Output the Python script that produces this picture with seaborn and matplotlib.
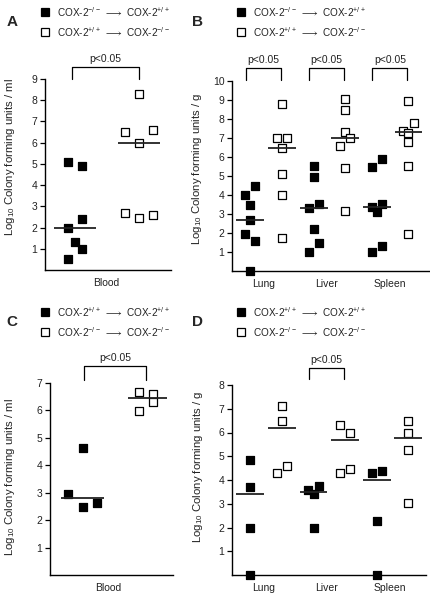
import numpy as np
import pandas as pd
import matplotlib.pyplot as plt
import seaborn as sns
from matplotlib.lines import Line2D

sns.set_theme(style='ticks')
plt.rcParams['font.family'] = ['Liberation Sans', 'DejaVu Sans']
plt.rcParams['mathtext.default'] = 'regular'

# --- DATA (log10 CFU) ---
TISSUES = ['Lung', 'Liver', 'Spleen']

# Panel A: blood (per ml)
a_ko = [5.1, 4.9, 2.4, 2.0, 1.3, 1.0, 0.5]
a_wt = [8.3, 6.5, 6.0, 6.6, 2.7, 2.45, 2.6]
a_med = [2.0, 6.0]

# Panel B: organs (per g)
b_ko = {'Lung': [4.0, 4.45, 3.45, 2.7, 1.95, 1.6, 0.0],
        'Liver': [5.55, 4.95, 3.55, 3.3, 2.2, 1.45, 1.0],
        'Spleen': [5.5, 5.9, 3.35, 3.1, 3.55, 1.3, 1.0]}
b_wt = {'Lung': [7.0, 7.0, 8.8, 6.5, 5.1, 4.0, 1.75],
        'Liver': [9.05, 8.45, 7.3, 6.6, 7.0, 5.4, 3.15],
        'Spleen': [8.95, 7.8, 7.35, 7.25, 6.8, 5.55, 1.95]}
b_med_ko = [2.7, 3.3, 3.35]
b_med_wt = [6.5, 7.0, 7.3]

# Panel C: blood (per ml)
c_wt = [2.96, 2.47, 2.61, 4.62]
c_ko = [6.69, 5.99, 6.59, 6.29]
c_med = [2.8, 6.47]

# Panel D: organs (per g)
d_wt = {'Lung': [4.83, 3.72, 1.99, 0.0],
        'Liver': [3.58, 3.41, 3.73, 1.99],
        'Spleen': [4.28, 4.39, 2.27, 0.0]}
d_ko = {'Lung': [7.12, 6.47, 4.3, 4.6],
        'Liver': [6.31, 5.98, 4.3, 4.47],
        'Spleen': [6.47, 6.0, 5.25, 3.05]}
d_med_wt = [3.43, 3.5, 4.02]
d_med_ko = [6.18, 5.7, 5.77]

# --- LAYOUT: horizontal slot of each point inside its column (-1 / 0 / +1) ---
a_ko_slot = [-1, 1, 1, -1, 0, 1, -1]
a_wt_slot = [0, -1, 0, 1, -1, 0, 1]
b_ko_slot = {'Lung': [-1, 1, 0, 0, -1, 1, 0],
             'Liver': [0, 0, 1, -1, 0, 1, -1],
             'Spleen': [-1, 1, -1, 0, 1, 1, -1]}
b_wt_slot = {'Lung': [-1, 1, 0, 0, 0, 0, 0],
             'Liver': [0, 0, 0, -1, 1, 0, 0],
             'Spleen': [0, 1, -1, 0, 0, 0, 0]}
c_wt_slot = [-1, 0, 1, 0]
c_ko_slot = [-1, -1, 1, 1]
d_wt_slot = {'Lung': [0, 0, 0, 0],
             'Liver': [-1, 0, 1, 0],
             'Spleen': [-1, 1, 0, 0]}
d_ko_slot = {'Lung': [0, 0, -1, 1],
             'Liver': [-1, 1, -1, 1],
             'Spleen': [0, 0, 0, 0]}

W, H = 431, 600
fig = plt.figure(figsize=(W / 100, H / 100), dpi=100)
TXT = '#222222'


def px_axes(left, top, right, bottom):
    return fig.add_axes([left / W, 1 - bottom / H, (right - left) / W, (bottom - top) / H])


def squares(ax, x, y, filled):
    df = pd.DataFrame({'x': x, 'y': y})
    sns.scatterplot(data=df, x='x', y='y', ax=ax, marker='s', s=38,
                    color='black' if filled else 'white', edgecolor='black',
                    linewidth=0.9, clip_on=False, legend=False, zorder=3)


def style_axis(ax, ymax, xlim, ylabel, lab_xy):
    sns.despine(ax=ax)
    ax.set_ylim(0, ymax)
    ax.set_xlim(*xlim)
    ax.set_yticks(range(1, ymax + 1))
    ax.spines['left'].set_bounds(0, ymax)
    for s in ['left', 'bottom']:
        ax.spines[s].set_linewidth(1.0)
        ax.spines[s].set_color('black')
    ax.tick_params(axis='y', length=3.5, width=0.9, labelsize=7.5, pad=2,
                   color='black', labelcolor=TXT)
    ax.tick_params(axis='x', length=0, labelsize=7.5, pad=6, labelcolor=TXT)
    ax.set_xlabel('')
    ax.set_ylabel(ylabel, fontsize=8.2, color=TXT)
    ax.yaxis.set_label_coords(*lab_xy)


def bracket(ax, x1, x2, y0, y1, ytext):
    tr = ax.get_xaxis_transform()
    ax.plot([x1, x1, x2, x2], [y0, y1, y1, y0], color='black', lw=0.9,
            transform=tr, clip_on=False)
    ax.text((x1 + x2) / 2, ytext, 'p<0.05', transform=tr, ha='center', va='center',
            fontsize=7.5, color=TXT)


def legend(x, y1, y2, lab1, lab2, letter, lx):
    for y, lab, filled in [(y1, lab1, True), (y2, lab2, False)]:
        fig.add_artist(Line2D([x / W], [1 - y / H], marker='s', ms=6.2,
                              mfc='black' if filled else 'white', mec='black', mew=0.9,
                              transform=fig.transFigure))
        fig.text((x + 12) / W, 1 - y / H, lab, fontsize=7.2, va='center', color=TXT)
    fig.text(lx / W, 1 - (y1 + y2) / 2 / H, letter, fontsize=11, fontweight='bold',
             ha='center', va='center')


LAB1 = r'COX-2$^{-/-}$ $\longrightarrow$ COX-2$^{+/+}$'
LAB2 = r'COX-2$^{+/+}$ $\longrightarrow$ COX-2$^{-/-}$'
LAB3 = r'COX-2$^{+/+}$ $\longrightarrow$ COX-2$^{+/+}$'
LAB4 = r'COX-2$^{-/-}$ $\longrightarrow$ COX-2$^{-/-}$'
YL_ML = r'Log$_{10}$ Colony forming units / ml'
YL_G = r'Log$_{10}$ Colony forming units / g'

# --- PANEL A ---
ax = px_axes(45, 79, 171, 270)
squares(ax, 0 + np.array(a_ko_slot) * 0.11, a_ko, True)
squares(ax, 1 + np.array(a_wt_slot) * 0.22, a_wt, False)
ax.hlines(a_med, [-0.33, 0.67], [0.33, 1.33], color=TXT, lw=1.3, zorder=4)
ax.set_xticks([0.48])
ax.set_xticklabels(['Blood'])
style_axis(ax, 9, (-0.47, 1.5), YL_ML, (-0.22, 0.59))
bracket(ax, -0.05, 1.0, 1.0, 1.063, 1.105)
legend(45, 12, 32, LAB1, LAB2, 'A', 12)

# --- PANEL B ---
ax = px_axes(232, 81, 430, 271)
for i, t in enumerate(TISSUES):
    squares(ax, i - 0.25 + np.array(b_ko_slot[t]) * 0.08, b_ko[t], True)
    squares(ax, i + 0.25 + np.array(b_wt_slot[t]) * 0.08, b_wt[t], False)
    bracket(ax, i - 0.32, i + 0.23, 1.005, 1.068, 1.108)
pos = np.arange(len(TISSUES))
ax.hlines(b_med_ko, pos - 0.47, pos - 0.03, color=TXT, lw=1.3, zorder=4)
ax.hlines(b_med_wt, pos + 0.03, pos + 0.47, color=TXT, lw=1.3, zorder=4)
ax.set_xticks(pos - 0.04)
ax.set_xticklabels(TISSUES)
style_axis(ax, 10, (-0.54, 2.59), YL_G, (-0.14, 0.54))
legend(241, 12, 32, LAB1, LAB2, 'B', 198)

# --- PANEL C ---
ax = px_axes(50, 383, 173, 575)
squares(ax, 0 + np.array(c_wt_slot) * 0.23, c_wt, True)
squares(ax, 1 + np.array(c_ko_slot) * 0.11, c_ko, False)
ax.hlines(c_med, [-0.34, 0.71], [0.34, 1.33], color=TXT, lw=1.3, zorder=4)
ax.set_xticks([0.4])
ax.set_xticklabels(['Blood'])
style_axis(ax, 7, (-0.52, 1.43), YL_ML, (-0.27, 0.51))
bracket(ax, 0.02, 1.0, 1.016, 1.089, 1.13)
legend(45, 312, 332, LAB3, LAB4, 'C', 12)

# --- PANEL D ---
ax = px_axes(232, 385, 426, 575)
for i, t in enumerate(TISSUES):
    squares(ax, i - 0.25 + np.array(d_wt_slot[t]) * 0.08, d_wt[t], True)
    squares(ax, i + 0.25 + np.array(d_ko_slot[t]) * 0.08, d_ko[t], False)
bracket(ax, 1 - 0.32, 1 + 0.23, 1.03, 1.09, 1.13)
ax.hlines(d_med_wt, pos - 0.47, pos - 0.03, color=TXT, lw=1.3, zorder=4)
ax.hlines(d_med_ko, pos + 0.03, pos + 0.47, color=TXT, lw=1.3, zorder=4)
ax.set_xticks(pos - 0.04)
ax.set_xticklabels(TISSUES)
style_axis(ax, 8, (-0.54, 2.53), YL_G, (-0.14, 0.57))
legend(241, 312, 332, LAB3, LAB4, 'D', 198)

fig.savefig('out.png', dpi=100)
